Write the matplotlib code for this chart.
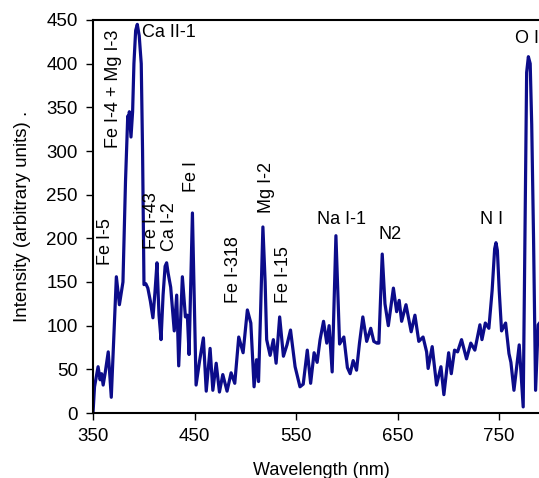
import matplotlib
matplotlib.use("Agg")
import matplotlib.pyplot as plt

plt.rcParams['font.family'] = ['Liberation Sans', 'DejaVu Sans']

wavelength = [350, 351.5, 355, 357, 358.5, 360, 362, 365, 368, 373, 376, 379.5, 382, 384.2, 385, 385.8,
              387.4, 389, 390.3, 392, 393.6, 395.5, 397.5, 398.8, 400.2, 402, 404, 406.5, 409, 411, 413,
              415, 417, 419, 421, 422.5, 424, 426.5, 430, 432.4, 434.4, 438, 441, 442.9, 444.6, 447.9,
              451.5, 455, 458.7, 461.5, 465.3, 468, 471.3, 474.5, 477.8, 482, 486, 489.6, 493.5,
              497.8, 502, 505.4, 508.6, 511, 513, 515, 517.3, 519.5, 521, 524.4, 527.6, 530.3,
              533.8, 537.5, 541, 544.5, 549, 553.8, 557, 561, 564.3, 567.7, 570.7, 573.6, 577,
              580.2, 582.5, 585.5, 589.2, 592.8, 597, 600.5, 603.2, 606.2, 609.5, 612.4, 615.7,
              619.5, 623.5, 626.5, 629.5, 631.5, 634.8, 637.5, 640.8, 645.8, 649, 651.5, 653.9,
              658.2, 663.3, 667, 670.8, 675, 678.5, 680, 684, 688.3, 692.6, 695.5, 700.2, 702.8,
              706, 709, 712.9, 717.8, 722, 726, 731, 733, 736.3, 739.8, 743, 745.5, 746.8, 748.2,
              750, 752.3, 756.3, 759.6, 761.5, 764.5, 769.7, 773.6, 775.3, 777, 778.7, 780.5,
              782, 783.8, 785.8, 788.4, 791]
intensity = [0, 30, 53, 38, 45, 32, 46, 70, 18, 156, 124, 150, 265, 340, 334, 345,
             316, 345, 400, 438, 445, 432, 400, 300, 147, 148, 143, 128, 109, 138, 172,
             112, 84, 135, 168, 172, 160, 144, 94, 135, 54, 156, 110, 112, 67, 229,
             32, 60, 86, 25, 74, 26, 57, 24, 44, 25, 46, 34, 87,
             69, 118, 103, 30, 61, 36, 115, 213, 150, 84, 66, 84, 57,
             110, 65, 78, 95, 53, 30, 33, 72, 34, 69, 58, 84, 105,
             80, 100, 47, 203, 79, 87, 52, 45, 60, 49, 80, 110,
             82, 97, 82, 80, 80, 182, 125, 100, 143, 116, 129, 105,
             124, 93, 112, 82, 87, 70, 51, 76, 32, 53, 21, 69, 45,
             72, 70, 84, 62, 80, 72, 101, 84, 103, 97, 140, 188, 195, 186,
             140, 94, 103, 68, 58, 26, 78, 7, 200, 390, 408, 400,
             330, 200, 26, 101, 105]

labels = ["Fe I-5", "Fe I-4 + Mg I-3", "Fe I-43", "Ca I-2", "Fe I", "Fe I-318", "Mg I-2", "Fe I-15"]
label_x = [362.8, 370.5, 407.8, 425.8, 446.5, 488.5, 521.0, 537.5]
label_y = [170, 303, 188, 186, 253, 126, 229, 126]

hlabels = ["Ca II-1", "Na I-1", "N2", "N I", "O I"]
hlabel_x = [398, 594.5, 642.5, 742, 777]
hlabel_y = [436, 222, 204, 222, 429]

xticks = [350, 450, 550, 650, 750]
yticks = [0, 50, 100, 150, 200, 250, 300, 350, 400, 450]

W, H = 539, 478
fig = plt.figure(figsize=(W / 100, H / 100), dpi=100)
ax = fig.add_axes([93 / W, (H - 413) / H, 457 / W, (413 - 20) / H])

ax.plot(wavelength, intensity, color='#0c0c8a', linewidth=2.3, solid_joinstyle='round',
        solid_capstyle='round')

ax.set_xlim(350, 800)
ax.set_ylim(0, 450)
ax.set_xticks(xticks)
ax.set_yticks(yticks)
ax.tick_params(axis='both', direction='out', length=5, width=1, labelsize=13.5,
               colors='black', pad=6)
for s in ax.spines.values():
    s.set_linewidth(1.5)
    s.set_color('black')

fs = 13
for t, x, y in zip(labels, label_x, label_y):
    ax.text(x, y, t, rotation=90, ha='center', va='bottom', fontsize=fs)
for t, x, y in zip(hlabels, hlabel_x, hlabel_y):
    ax.text(x, y, t, ha='center', va='center', fontsize=fs)
ax.texts[-5].set_ha('left')

ax.set_xlabel("Wavelength (nm)", fontsize=13, labelpad=12)
ax.set_ylabel("Intensity (arbitrary units) .", fontsize=13.5, labelpad=11)

fig.savefig("out.png", dpi=100)
